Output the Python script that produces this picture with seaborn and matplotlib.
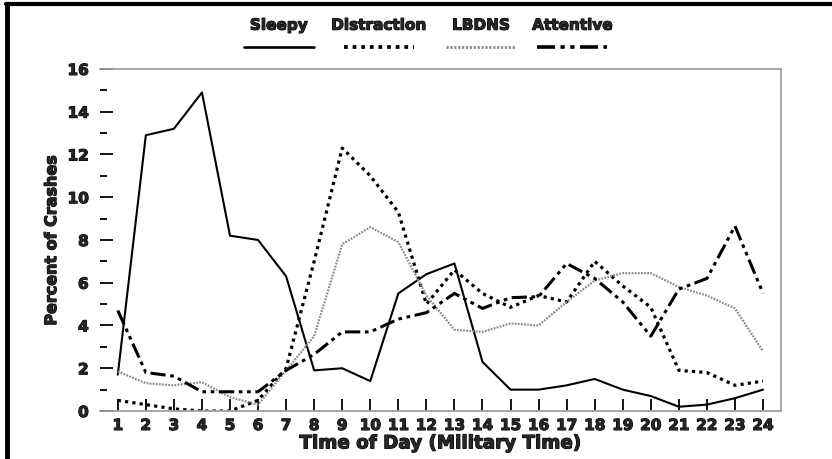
import numpy as np
import pandas as pd
import seaborn as sns
import matplotlib.pyplot as plt
import matplotlib.patheffects as pe
from matplotlib.lines import Line2D
from matplotlib.ticker import MultipleLocator

# --- data ---
hours = list(range(1, 25))
sleepy = [1.7, 12.9, 13.2, 14.9, 8.2, 8.0, 6.3, 1.9, 2.0, 1.4, 5.5, 6.4,
          6.9, 2.3, 1.0, 1.0, 1.2, 1.5, 1.0, 0.7, 0.2, 0.3, 0.6, 1.0]
distraction = [0.5, 0.3, 0.1, 0.0, 0.0, 0.5, 2.0, 7.0, 12.3, 11.0, 9.3, 5.0,
               6.6, 5.5, 4.85, 5.4, 5.1, 7.0, 5.85, 4.85, 1.9, 1.8, 1.2, 1.4]
lbdns = [1.85, 1.3, 1.2, 1.35, 0.65, 0.3, 1.9, 3.5, 7.8, 8.6, 7.9, 5.4,
         3.8, 3.7, 4.1, 4.0, 5.1, 6.1, 6.45, 6.45, 5.8, 5.4, 4.8, 2.8]
attentive = [4.7, 1.8, 1.63, 0.9, 0.9, 0.9, 1.9, 2.65, 3.7, 3.7, 4.3, 4.6,
             5.5, 4.8, 5.3, 5.35, 6.9, 6.2, 5.1, 3.5, 5.7, 6.2, 8.65, 5.5]

labels = ["Sleepy", "Distraction", "LBDNS", "Attentive"]

df = pd.DataFrame({"hour": hours * 4,
                   "pct": sleepy + distraction + lbdns + attentive,
                   "group": np.repeat(labels, 24)})

# line styles per group
styles = {
    "Sleepy": dict(color="black", lw=1.5, dashes=None),
    "Distraction": dict(color="black", lw=2.3, dashes=(1.0, 1.3)),
    "LBDNS": dict(color="#8a8a8a", lw=1.6, dashes=(0.8, 0.6)),
    "Attentive": dict(color="black", lw=2.2, dashes=(5, 1.5, 1.2, 1.5, 1.2, 1.5)),
}

sns.set_style("white")
plt.rcParams["font.family"] = ["DejaVu Sans"]
plt.rcParams["font.weight"] = "bold"
heavy = [pe.withStroke(linewidth=0.8, foreground="black")]

fig = plt.figure(figsize=(8.32, 4.6), dpi=100)
ax = fig.add_axes([0.120, 0.1043, 0.819, 0.7437])

for name in labels:
    st = styles[name]
    sub = df[df["group"] == name]
    sns.lineplot(data=sub, x="hour", y="pct", ax=ax, color=st["color"],
                 linewidth=st["lw"], legend=False)
    line = ax.get_lines()[-1]
    if st["dashes"] is not None:
        line.set_dashes(st["dashes"])
        line.set_dash_capstyle("butt")

ax.set_xlim(0.36, 24.65)
ax.set_ylim(0, 16)
ax.set_xticks(hours)
ax.yaxis.set_major_locator(MultipleLocator(2))
ax.yaxis.set_minor_locator(MultipleLocator(1))
ax.tick_params(axis="x", bottom=True, direction="in", length=8.5, width=1.3,
               color="black", labelsize=11, pad=5)
ax.tick_params(axis="y", which="major", left=True, direction="in", length=9.5,
               width=1.3, color="black", labelsize=11, pad=8)
ax.tick_params(axis="y", which="minor", left=True, direction="in", length=5,
               width=1.3, color="black")
for lab in ax.get_xticklabels() + ax.get_yticklabels():
    lab.set_fontweight("bold")
    lab.set_path_effects(heavy)

ax.spines["left"].set_visible(False)
for s in ["top", "right", "bottom"]:
    ax.spines[s].set_color("#a0a0a0")
    ax.spines[s].set_linewidth(1.3)

ax.set_xlabel("Time of Day (Military Time)", fontsize=13.2, fontweight="bold",
              labelpad=1, path_effects=heavy)
ax.set_ylabel("Percent of Crashes", fontsize=11.5, fontweight="bold",
              labelpad=6, path_effects=heavy)

# legend: labels above line samples
leg_x = [0.335, 0.455, 0.578, 0.688]
for name, cx in zip(labels, leg_x):
    st = styles[name]
    fig.text(cx, 0.943, name, ha="center", va="center", fontsize=11,
             fontweight="bold", path_effects=heavy)
    h = Line2D([cx - 0.042, cx + 0.042], [0.896, 0.896], transform=fig.transFigure,
               color=st["color"], lw=st["lw"] + 0.4)
    if st["dashes"] is not None:
        h.set_dashes(st["dashes"])
        h.set_dash_capstyle("butt")
    fig.add_artist(h)

# outer frame (top and left edges)
fig.add_artist(Line2D([0.007, 1.0], [0.989, 0.989], transform=fig.transFigure,
                      color="black", lw=3))
fig.add_artist(Line2D([0.0085, 0.0085], [0.0, 0.989], transform=fig.transFigure,
                      color="black", lw=3.5))

fig.savefig("out.png", dpi=100)
